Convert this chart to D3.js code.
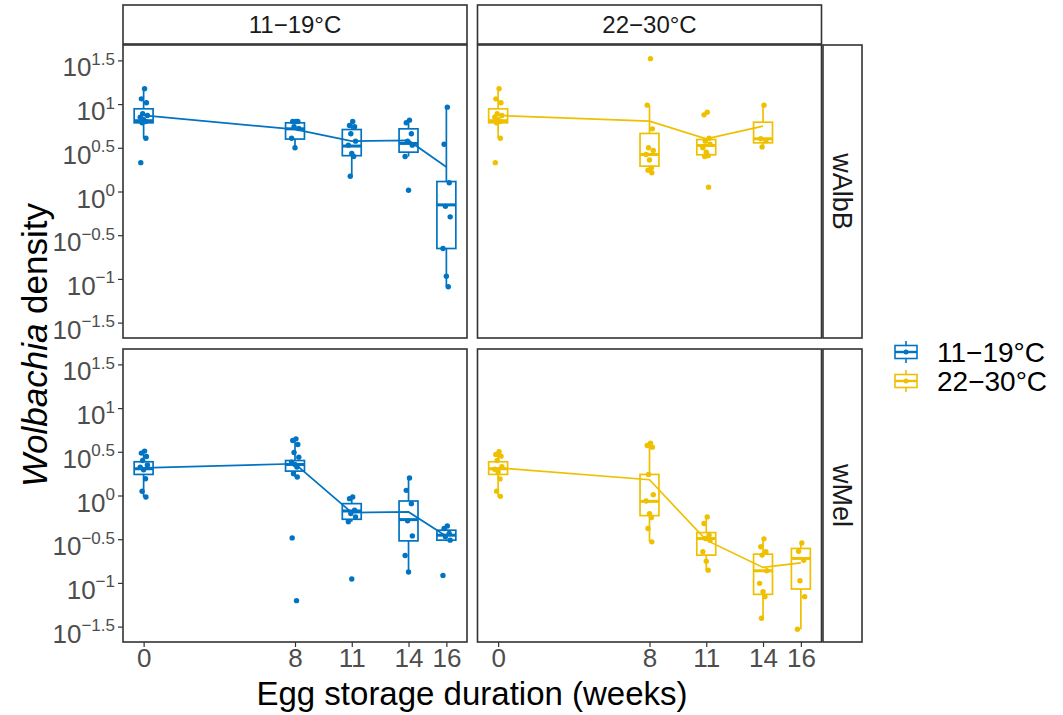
<!DOCTYPE html>
<html><head><meta charset="utf-8">
<script src="https://cdn.jsdelivr.net/npm/d3@7"></script>
<style>
body{margin:0;background:#fff;}
svg{display:block;font-family:"Liberation Sans",Arial,sans-serif;}
</style></head>
<body><svg id="c" width="1063" height="715"></svg>
<script>
// ---------- data (values are log10 density exponents) ----------
const weeks = [0, 8, 11, 14, 16];
const strains = ["wAlbB", "wMel"];
const temps = ["11\u221219\u00B0C", "22\u221230\u00B0C"];
const yTicks = [-1.5, -1, -0.5, 0, 0.5, 1, 1.5];
const xTicks = [0, 8, 11, 14, 16];
const colors = ["#0073C2", "#EFC000"];

// box stats per week: [lower whisker, q1, median, q3, upper whisker]
const albB_cool_box = [[0.61,0.786,0.81,0.946,1.175],[0.50,0.60,0.717,0.786,0.80],[0.175,0.41,0.52,0.709,0.80],[0.40,0.45,0.55,0.717,0.816],[-1.09,-0.652,-0.153,0.114,0.965]];
const albB_warm_box = [[0.61,0.786,0.81,0.946,1.175],[0.214,0.29,0.423,0.664,0.988],[0.40,0.42,0.526,0.595,0.61],[0.51,0.557,0.603,0.793,0.988],null];
const mel_cool_box  = [[-0.017,0.241,0.306,0.386,0.508],[0.211,0.279,0.355,0.40,0.648],[-0.30,-0.272,-0.177,-0.093,-0.017],[-0.876,-0.519,-0.276,-0.063,0.20],[-0.523,-0.511,-0.454,-0.397,-0.348]];
const mel_warm_box  = [[-0.017,0.241,0.306,0.386,0.508],[-0.53,-0.23,-0.067,0.241,0.591],[-0.854,-0.682,-0.492,-0.424,-0.245],[-1.405,-1.131,-0.861,-0.671,-0.496],[-1.53,-1.07,-0.72,-0.606,-0.542]];

// group means (connected by line)
const albB_cool_mean = [0.87, 0.71, 0.576, 0.584, 0.28];
const albB_warm_mean = [0.87, 0.805, 0.603, 0.747, null];
const mel_cool_mean  = [0.317, 0.363, -0.196, -0.188, -0.466];
const mel_warm_mean  = [0.317, 0.18, -0.511, -0.823, -0.77];

// individual samples per week
const albB_cool_pts = [
  [1.175,1.06,1.015,0.89,0.87,0.85,0.82,0.80,0.786,0.61,0.33],
  [0.80,0.80,0.80,0.74,0.72,0.61,0.50],
  [0.80,0.755,0.74,0.66,0.576,0.53,0.435,0.40,0.175],
  [0.816,0.786,0.66,0.576,0.53,0.40,0.015],
  [0.965,0.54,0.10,-0.17,-0.29,-0.652,-0.97,-1.09]];
const albB_warm_pts = [
  [1.175,1.06,1.015,0.89,0.87,0.85,0.82,0.80,0.786,0.61,0.33],
  [1.52,0.988,0.717,0.50,0.47,0.423,0.36,0.27,0.244,0.214],
  [0.908,0.877,0.61,0.576,0.54,0.50,0.45,0.41,0.40,0.05],
  [0.988,0.603,0.58,0.51],
  []];
const mel_cool_pts = [
  [0.508,0.485,0.447,0.401,0.35,0.325,0.295,0.192,0.048,-0.017],
  [0.648,0.63,0.584,0.492,0.439,0.38,0.355,0.325,0.25,0.211,-0.485,-1.203],
  [-0.017,-0.036,-0.169,-0.207,-0.245,-0.30,-0.956],
  [0.20,0.059,-0.093,-0.29,-0.462,-0.686,-0.876],
  [-0.348,-0.378,-0.435,-0.473,-0.511,-0.914]];
const mel_warm_pts = [
  [0.50,0.47,0.45,0.40,0.33,0.30,0.27,0.19,0.05,-0.01],
  [0.599,0.572,0.553,0.241,0.01,-0.063,-0.207,-0.253,-0.378,-0.53],
  [-0.245,-0.321,-0.454,-0.492,-0.511,-0.644,-0.751,-0.854],
  [-0.496,-0.587,-0.644,-0.682,-0.861,-1.005,-1.10,-1.157,-1.405],
  [-0.542,-0.637,-0.74,-0.975,-1.157,-1.53]];

// horizontal jitter (weeks) applied to samples in order
const jitter = [0.05,-0.12,0.15,-0.05,0.2,-0.18,0.0,0.1,-0.08,0.12,-0.15,0.08];

const panels = [
  {row:0,col:0,box:albB_cool_box,mean:albB_cool_mean,pts:albB_cool_pts},
  {row:0,col:1,box:albB_warm_box,mean:albB_warm_mean,pts:albB_warm_pts},
  {row:1,col:0,box:mel_cool_box,mean:mel_cool_mean,pts:mel_cool_pts},
  {row:1,col:1,box:mel_warm_box,mean:mel_warm_mean,pts:mel_warm_pts}];

// ---------- layout ----------
const svg = d3.select("#c");
const colX = [123, 477.5], pw = 344;
const rowY = [45, 349], ph = 293;
const x = d3.scaleLinear().domain([-1.09, 17.09]).range([0, pw]);
const y = d3.scaleLinear().domain([-1.676, 1.676]).range([ph, 0]);
const tickCol = "#4d4d4d";
const fmtExp = d => (d < 0 ? "\u2212" : "") + Math.abs(d);

panels.forEach(p => {
  const g = svg.append("g").attr("transform", `translate(${colX[p.col]},${rowY[p.row]})`);
  const col = colors[p.col];
  // boxes
  p.box.forEach((b, i) => {
    if (!b) return;
    const cx = x(weeks[i]), hw = (x(0.5) - x(0));
    g.append("line").attr("x1", cx).attr("x2", cx).attr("y1", y(b[4])).attr("y2", y(b[3]))
      .attr("stroke", col).attr("stroke-width", 1.7);
    g.append("line").attr("x1", cx).attr("x2", cx).attr("y1", y(b[1])).attr("y2", y(b[0]))
      .attr("stroke", col).attr("stroke-width", 1.7);
    g.append("rect").attr("x", cx - hw).attr("width", 2 * hw)
      .attr("y", y(b[3])).attr("height", y(b[1]) - y(b[3]))
      .attr("fill", "none").attr("stroke", col).attr("stroke-width", 1.7);
    g.append("line").attr("x1", cx - hw).attr("x2", cx + hw).attr("y1", y(b[2])).attr("y2", y(b[2]))
      .attr("stroke", col).attr("stroke-width", 3);
  });
  // mean line
  const md = p.mean.map((m, i) => [weeks[i], m]).filter(d => d[1] !== null);
  g.append("path").datum(md)
    .attr("d", d3.line().x(d => x(d[0])).y(d => y(d[1])))
    .attr("fill", "none").attr("stroke", col).attr("stroke-width", 1.7);
  // points
  p.pts.forEach((arr, i) => {
    arr.forEach((v, k) => {
      g.append("circle").attr("cx", x(weeks[i] + jitter[k % jitter.length]))
        .attr("cy", y(v)).attr("r", 2.7).attr("fill", col);
    });
  });
  // border
  g.append("rect").attr("width", pw).attr("height", ph).attr("fill", "none")
    .attr("stroke", "#333").attr("stroke-width", 1.6);
  // y axis (left column)
  if (p.col === 0) {
    const ay = g.append("g").call(d3.axisLeft(y).tickValues(yTicks).tickSize(5).tickFormat(""));
    ay.select(".domain").remove();
    ay.selectAll(".tick line").attr("stroke", "#333").attr("stroke-width", 1.2);
    ay.selectAll(".tick").each(function(d) {
      const t = d3.select(this).append("text").attr("x", -8).attr("dy", "0.6em")
        .attr("text-anchor", "end").attr("fill", tickCol).attr("font-size", 26);
      t.append("tspan").text("10");
      t.append("tspan").attr("dy", "-0.68em").attr("font-size", 17).text(fmtExp(d));
    });
  }
  // x axis (bottom row)
  if (p.row === 1) {
    const ax = g.append("g").attr("transform", `translate(0,${ph})`)
      .call(d3.axisBottom(x).tickValues(xTicks).tickSize(5).tickFormat(d => d));
    ax.select(".domain").remove();
    ax.selectAll(".tick line").attr("stroke", "#333").attr("stroke-width", 1.2);
    ax.selectAll(".tick text").attr("fill", tickCol).attr("font-size", 26)
      .attr("font-family", "Liberation Sans, Arial, sans-serif").attr("y", 7);
  }
});

// top strips
temps.forEach((t, c) => {
  svg.append("rect").attr("x", colX[c]).attr("y", 5).attr("width", pw).attr("height", 39)
    .attr("fill", "#fff").attr("stroke", "#333").attr("stroke-width", 1.6);
  svg.append("text").attr("x", colX[c] + pw / 2).attr("y", 24.5).attr("dy", "0.35em")
    .attr("text-anchor", "middle").attr("font-size", 24).attr("fill", "#1a1a1a").text(t);
});
// right strips
strains.forEach((s, r) => {
  svg.append("rect").attr("x", 823).attr("y", rowY[r]).attr("width", 39).attr("height", ph)
    .attr("fill", "#fff").attr("stroke", "#333").attr("stroke-width", 1.6);
  svg.append("text").attr("transform", `translate(842.5,${rowY[r] + ph / 2}) rotate(90)`)
    .attr("dy", "0.35em").attr("text-anchor", "middle").attr("font-size", 27).attr("fill", "#1a1a1a").text(s);
});

// legend
temps.forEach((t, i) => {
  const cy = 352 + i * 29, cx = 906, col = colors[i];
  const lg = svg.append("g");
  lg.append("line").attr("x1", cx).attr("x2", cx).attr("y1", cy - 11).attr("y2", cy + 11).attr("stroke", col).attr("stroke-width", 1.6);
  lg.append("rect").attr("x", cx - 11).attr("y", cy - 6.5).attr("width", 22).attr("height", 13)
    .attr("fill", "#fff").attr("stroke", col).attr("stroke-width", 1.6);
  lg.append("line").attr("x1", cx - 11).attr("x2", cx + 11).attr("y1", cy).attr("y2", cy).attr("stroke", col).attr("stroke-width", 2.4);
  lg.append("circle").attr("cx", cx).attr("cy", cy).attr("r", 2.5).attr("fill", col);
  svg.append("text").attr("x", 937).attr("y", cy).attr("dy", "0.35em").attr("font-size", 28)
    .attr("fill", "#000").text(t);
});

// axis titles
svg.append("text").attr("x", 472).attr("y", 705).attr("text-anchor", "middle")
  .attr("font-size", 33).attr("fill", "#000").text("Egg storage duration (weeks)");
const yt = svg.append("text").attr("transform", "translate(47,345) rotate(-90)")
  .attr("text-anchor", "middle").attr("font-size", 35).attr("fill", "#000");
yt.append("tspan").attr("font-style", "italic").text("Wolbachia");
yt.append("tspan").text(" density");
</script></body></html>
